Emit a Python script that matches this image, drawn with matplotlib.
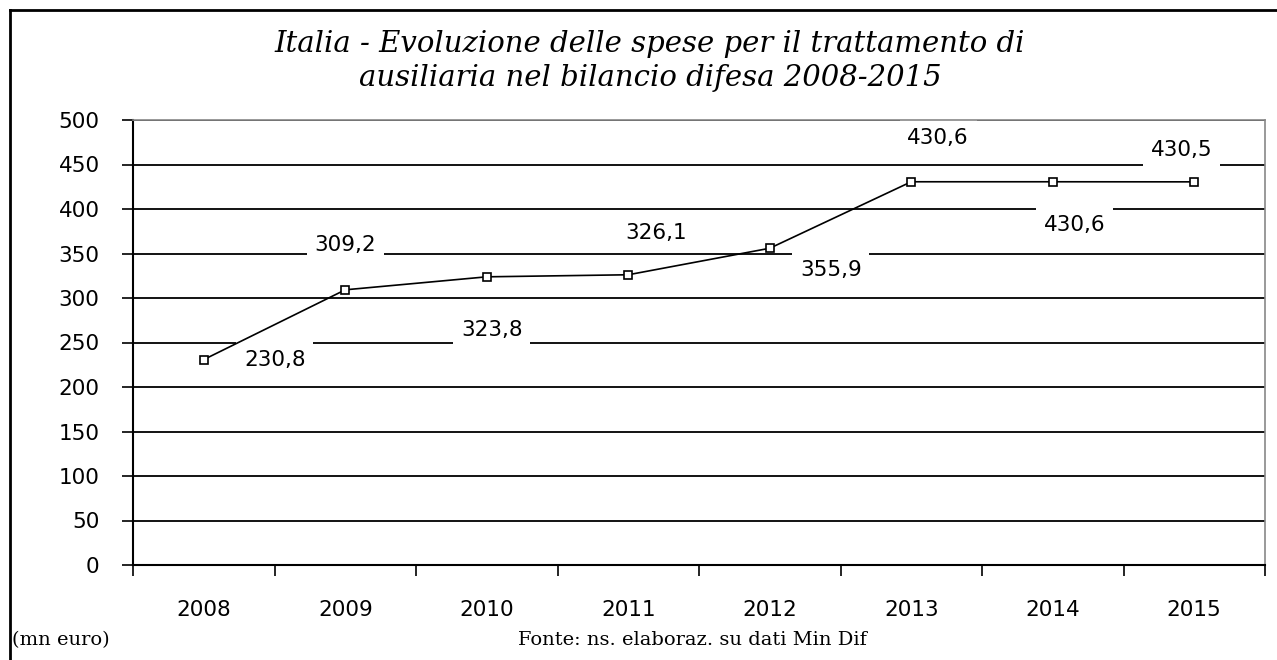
import numpy as np
import matplotlib
matplotlib.use("Agg")
import matplotlib.pyplot as plt
from matplotlib.lines import Line2D

# Dati (mn euro)
anni = ["2008", "2009", "2010", "2011", "2012", "2013", "2014", "2015"]
spese = [230.8, 309.2, 323.8, 326.1, 355.9, 430.6, 430.6, 430.5]
etichette = ["230,8", "309,2", "323,8", "326,1", "355,9", "430,6", "430,6", "430,5"]
y_ticks = [0, 50, 100, 150, 200, 250, 300, 350, 400, 450, 500]

# posizione delle etichette rispetto al punto (pixel)
offset_px = [(71, 0), (0, 45), (5, -53), (28, 42), (61, -22), (27, 44), (22, -43), (-13, 32)]

fig = plt.figure(figsize=(12.77, 6.6), dpi=100)
ax = fig.add_axes([133 / 1277, 1 - 565 / 660, (1265 - 133) / 1277, (565 - 120) / 660])

x = np.arange(len(anni))
ax.plot(x, spese, color="black", linewidth=1.2, marker="s", markersize=6,
        markerfacecolor="white", markeredgecolor="black", markeredgewidth=1.2, zorder=4)

for xi, v, lab, off in zip(x, spese, etichette, offset_px):
    ax.annotate(lab, (xi, v), xytext=off, textcoords="offset pixels",
                ha="center", va="center", fontsize=15.5, family="DejaVu Sans",
                bbox=dict(boxstyle="square,pad=0.35", fc="white", ec="none"), zorder=2)

ax.set_xlim(-0.5, len(anni) - 0.5)
ax.set_ylim(0, 500)
ax.set_yticks(y_ticks)
ax.set_yticklabels([str(t) for t in y_ticks], fontsize=15.5)
ax.set_xticks(x)
ax.set_xticklabels(anni, fontsize=15.5)
ax.set_xticks(np.arange(-0.5, len(anni)), minor=True)

ax.tick_params(axis="y", direction="out", length=8, width=1.2, pad=16)
ax.tick_params(axis="x", which="major", length=0, pad=25)
ax.tick_params(axis="x", which="minor", direction="out", length=8, width=1.2)

ax.yaxis.grid(True, color="black", linewidth=1.3)
ax.set_axisbelow(True)
for s in ["left", "bottom"]:
    ax.spines[s].set_color("black")
    ax.spines[s].set_linewidth(1.5)
for s in ["top", "right"]:
    ax.spines[s].set_color("#888888")
    ax.spines[s].set_linewidth(1.2)

fig.text(650 / 1277, 1 - 44 / 660, "Italia - Evoluzione delle spese per il trattamento di",
         ha="center", va="center", fontsize=21, family="DejaVu Serif", style="italic")
fig.text(650 / 1277, 1 - 78 / 660, "ausiliaria nel bilancio difesa 2008-2015",
         ha="center", va="center", fontsize=21, family="DejaVu Serif", style="italic")

fig.text(12 / 1277, 1 - 640 / 660, "(mn euro)", ha="left", va="center",
         fontsize=14, family="DejaVu Serif")
fig.text(692 / 1277, 1 - 640 / 660, "Fonte: ns. elaboraz. su dati Min Dif", ha="center",
         va="center", fontsize=14, family="DejaVu Serif")

# cornice esterna
fig.add_artist(Line2D([10 / 1277, 10 / 1277], [0, 1 - 10 / 660], color="black", linewidth=2))
fig.add_artist(Line2D([10 / 1277, 1], [1 - 10 / 660, 1 - 10 / 660], color="black", linewidth=2))

fig.savefig("out.png", dpi=100)
